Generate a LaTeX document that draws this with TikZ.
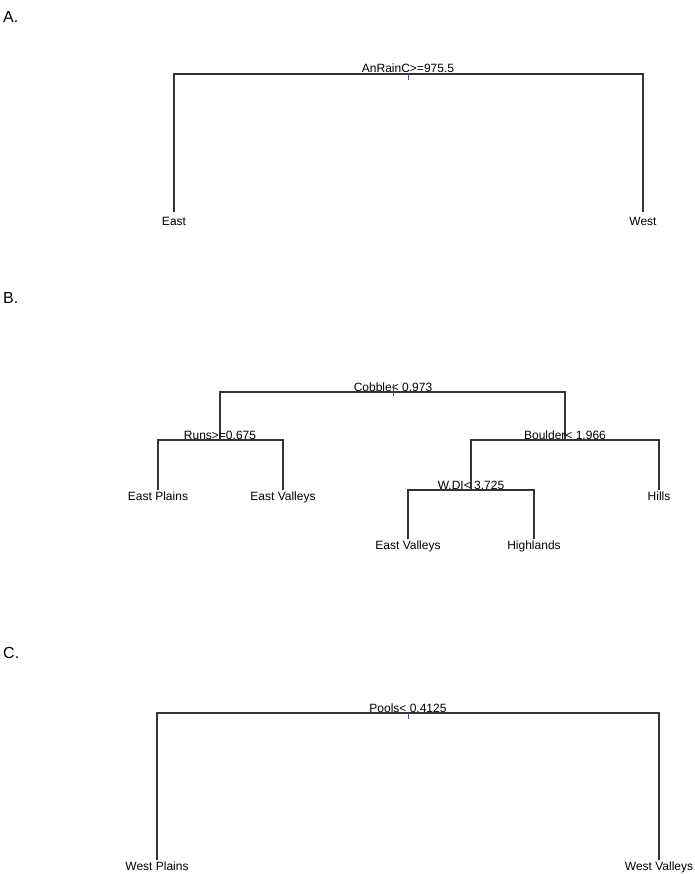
\documentclass[tikz,border=0pt]{standalone}
\usepackage{fontspec}
\setmainfont{Liberation Sans}
\begin{document}
\begin{tikzpicture}[x=1pt,y=-1pt,
  edge/.style={draw=black!80,line width=1.1pt},
  splitlab/.style={anchor=base,inner sep=0pt,font=\fontsize{12}{14}\selectfont},
  leaflab/.style={anchor=north,inner sep=0pt,font=\fontsize{12}{14}\selectfont},
  panel/.style={anchor=base west,inner sep=0pt,font=\fontsize{16}{18}\selectfont},
  rootmark/.style={draw=black!60!blue!70,line width=0.7pt}]
\useasboundingbox (0,0) rectangle (694,874);
\fill[white] (0,0) rectangle (694,874);

% ---------- Panel A ----------
\node[panel] (pA) at (3,23) {A.};
\coordinate (a0) at (408,74);
\coordinate (aL) at (174,74);
\coordinate (aR) at (643,74);
\coordinate (aLe) at (174,212);
\coordinate (aRe) at (643,212);
\draw[edge] (aLe) -- (aL) -- (aR) -- (aRe);
\node[splitlab] (sA) at (408,73) {AnRainC>=975.5};
\draw[rootmark] (a0) -- ++(0,6);
\node[leaflab] (lEast) at (174,217) {East};
\node[leaflab] (lWest) at (643,217) {West};

% ---------- Panel B ----------
\node[panel] (pB) at (3,303) {B.};
\coordinate (b0) at (393,392);
\coordinate (bL) at (220,392);
\coordinate (bR) at (565,392);
% Runs split
\coordinate (r0) at (220,440);
\coordinate (rL) at (158,440);
\coordinate (rR) at (283,440);
\coordinate (rLe) at (158,490);
\coordinate (rRe) at (283,490);
% Boulder split
\coordinate (q0) at (565,440);
\coordinate (qL) at (471,440);
\coordinate (qR) at (659,440);
\coordinate (qRe) at (659,490);
% W.DI split
\coordinate (w0) at (471,490);
\coordinate (wL) at (408,490);
\coordinate (wR) at (534,490);
\coordinate (wLe) at (408,539);
\coordinate (wRe) at (534,539);

\draw[edge] (r0) -- (bL) -- (bR) -- (q0);
\draw[edge] (rLe) -- (rL) -- (rR) -- (rRe);
\draw[edge] (w0) -- (qL) -- (qR) -- (qRe);
\draw[edge] (wLe) -- (wL) -- (wR) -- (wRe);

\node[splitlab] (sB) at (393,391) {Cobble< 0.973};
\draw[rootmark] (b0) ++(0,-8) -- ++(0,12);
\node[splitlab] (sRuns) at (220,439) {Runs>=0.675};
\node[splitlab] (sBoulder) at (565,439) {Boulder< 1.966};
\node[splitlab] (sWDI) at (471,489) {W.DI< 3.725};

\node[leaflab] (lEP) at (158,492) {East Plains};
\node[leaflab] (lEV1) at (283,492) {East Valleys};
\node[leaflab] (lHills) at (659,492) {Hills};
\node[leaflab] (lEV2) at (408,541) {East Valleys};
\node[leaflab] (lHigh) at (534,541) {Highlands};

% ---------- Panel C ----------
\node[panel] (pC) at (3,658) {C.};
\coordinate (c0) at (408,713);
\coordinate (cL) at (157,713);
\coordinate (cR) at (659,713);
\coordinate (cLe) at (157,860);
\coordinate (cRe) at (659,860);
\draw[edge] (cLe) -- (cL) -- (cR) -- (cRe);
\node[splitlab] (sC) at (408,712) {Pools< 0.4125};
\draw[rootmark] (c0) -- ++(0,6);
\node[leaflab] (lWP) at (157,862) {West Plains};
\node[leaflab] (lWV) at (659,862) {West Valleys};
\end{tikzpicture}
\end{document}
